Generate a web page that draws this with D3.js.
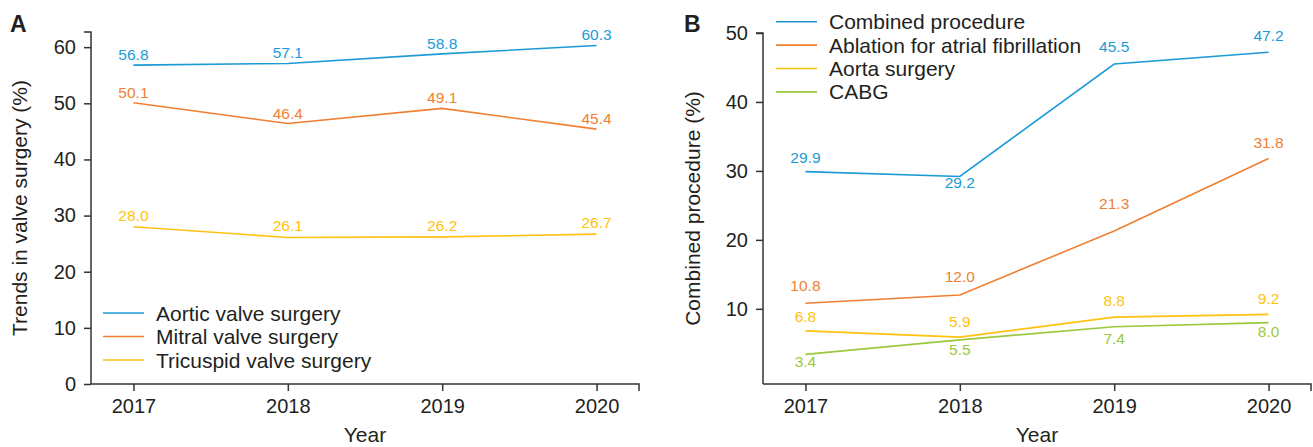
<!DOCTYPE html>
<html>
<head>
<meta charset="utf-8">
<script src="https://cdn.jsdelivr.net/npm/d3@7"></script>
<style>
  body { margin: 0; background: #fff; }
  svg text { font-family: "Liberation Sans", Arial, sans-serif; fill: #231f20; }
  .axis path, .axis line { stroke: #333; stroke-width: 1.5; }
</style>
</head>
<body>
<div id="chart"></div>
<script>
////////////////////////////////////////////////////////////////////////
// data

let years = [2017, 2018, 2019, 2020];

// panel A
let aorticValve = [56.8, 57.1, 58.8, 60.3];
let mitralValve = [50.1, 46.4, 49.1, 45.4];
let tricuspidValve = [28.0, 26.1, 26.2, 26.7];
let namesA = ["Aortic valve surgery", "Mitral valve surgery", "Tricuspid valve surgery"];
let ticksA = [0, 10, 20, 30, 40, 50, 60];

// panel B
let combined = [29.9, 29.2, 45.5, 47.2];
let ablation = [10.8, 12.0, 21.3, 31.8];
let aorta = [6.8, 5.9, 8.8, 9.2];
let cabg = [3.4, 5.5, 7.4, 8.0];
let namesB = ["Combined procedure", "Ablation for atrial fibrillation", "Aorta surgery", "CABG"];
let ticksB = [10, 20, 30, 40, 50];

let colors = ["#1b9ad6", "#f07f32", "#ffc20e", "#9bc83c"];

// label offsets (px from point, text baseline)
let dyA = [[-5, -5, -5, -5], [-5, -5, -5, -5], [-6, -6, -6, -6]];
let dyB = [[-9, 12, -12, -11], [-12, -13, -22, -11], [-9, -10, -11, -10], [13, 15, 17, 14]];

////////////////////////////////////////////////////////////////////////
// setup

let svg = d3.select("#chart").append("svg")
  .attr("width", 1313)
  .attr("height", 447);

function drawPanel(opt)
{
  let x = d3.scalePoint().domain(years).range(opt.xRange).padding(0.275);
  let y = d3.scaleLinear().domain(opt.yDomain).range([384, opt.yTop]);
  let g = svg.append("g");

  let xAxis = g.append("g")
    .attr("class", "axis")
    .attr("transform", "translate(0," + y.range()[0] + ")")
    .call(d3.axisBottom(x).tickSize(7).tickSizeOuter(0).tickPadding(8));
  xAxis.select(".domain")
    .attr("d", "M" + opt.xRange[0] + ",0H" + opt.xRange[1] + "V7");

  let yAxis = g.append("g")
    .attr("class", "axis")
    .attr("transform", "translate(" + opt.xRange[0] + ",0)")
    .call(d3.axisLeft(y).tickValues(opt.ticks).tickSize(7).tickSizeOuter(0).tickPadding(8));
  yAxis.select(".domain")
    .attr("d", "M-7," + y.range()[1] + "H0V" + y.range()[0]);

  g.selectAll(".axis text").style("font-size", "20px");

  // axis titles
  g.append("text")
    .attr("x", (opt.xRange[0] + opt.xRange[1]) / 2)
    .attr("y", 442)
    .attr("text-anchor", "middle")
    .style("font-size", "21px")
    .text("Year");

  g.append("text")
    .attr("transform", "translate(" + opt.titleX + "," + (y.range()[0] + y.range()[1]) / 2 + ") rotate(-90)")
    .attr("text-anchor", "middle")
    .style("font-size", "21px")
    .text(opt.yTitle);

  // panel letter
  g.append("text")
    .attr("x", opt.letterX)
    .attr("y", 32)
    .style("font-size", "23px")
    .style("font-weight", "bold")
    .text(opt.letter);

  // lines and labels
  let line = d3.line()
    .x(function(d, i) { return x(years[i]); })
    .y(function(d) { return y(d); });

  opt.series.forEach(function(s, k) {
    g.append("path")
      .datum(s)
      .attr("fill", "none")
      .attr("stroke", colors[k])
      .attr("stroke-width", 1.6)
      .attr("d", line);

    g.selectAll(null)
      .data(s)
      .enter()
      .append("text")
      .attr("x", function(d, i) { return x(years[i]); })
      .attr("y", function(d, i) { return y(d) + opt.dy[k][i]; })
      .attr("text-anchor", "middle")
      .style("font-size", "15.5px")
      .style("fill", colors[k])
      .text(function(d) { return d.toFixed(1); });
  });

  // legend
  let leg = g.append("g")
    .selectAll("g")
    .data(opt.names)
    .enter()
    .append("g")
    .attr("transform", function(d, i) { return "translate(" + opt.legX + "," + (opt.legY + i * opt.legStep) + ")"; });

  leg.append("line")
    .attr("x1", 0)
    .attr("x2", 41)
    .attr("stroke", function(d, i) { return colors[i]; })
    .attr("stroke-width", 1.6);

  leg.append("text")
    .attr("x", 53)
    .attr("y", 7.5)
    .style("font-size", "21px")
    .text(function(d) { return d; });
}

////////////////////////////////////////////////////////////////////////
// panel A

drawPanel({
  xRange: [91, 639],
  yDomain: [0, 62.7],
  yTop: 32,
  ticks: ticksA,
  series: [aorticValve, mitralValve, tricuspidValve],
  names: namesA,
  dy: dyA,
  yTitle: "Trends in valve surgery (%)",
  titleX: 27,
  letter: "A",
  letterX: 10,
  legX: 103,
  legY: 313,
  legStep: 23.5
});

////////////////////////////////////////////////////////////////////////
// panel B

drawPanel({
  xRange: [763, 1311],
  yDomain: [-0.9, 50],
  yTop: 33,
  ticks: ticksB,
  series: [combined, ablation, aorta, cabg],
  names: namesB,
  dy: dyB,
  yTitle: "Combined procedure (%)",
  titleX: 700,
  letter: "B",
  letterX: 684,
  legX: 776,
  legY: 21.7,
  legStep: 23.4
});
</script>
</body>
</html>
